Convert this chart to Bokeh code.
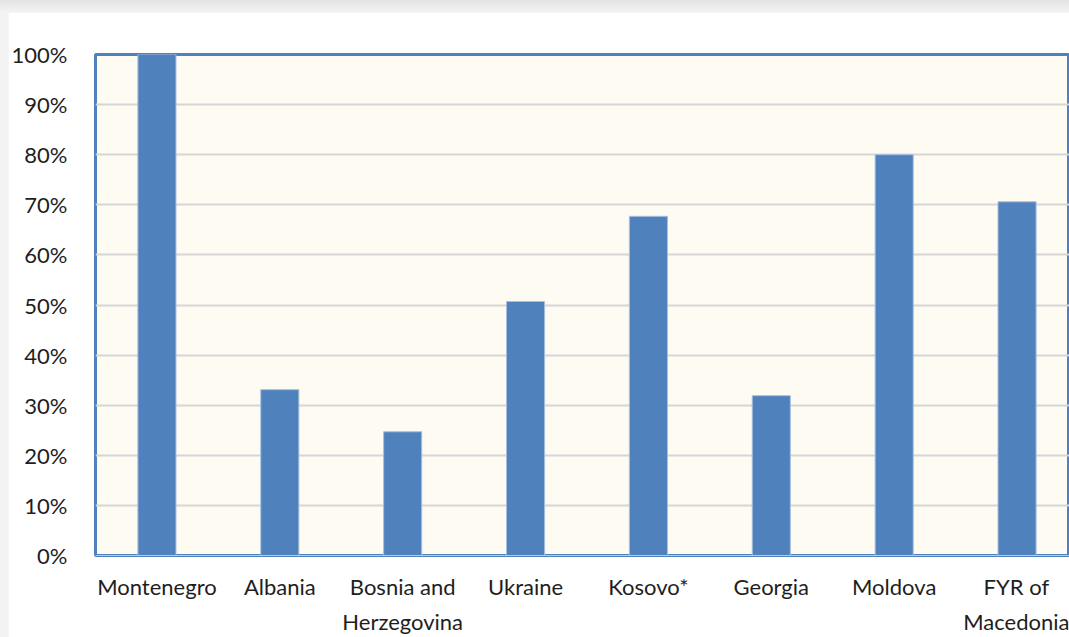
from bokeh.plotting import figure
from bokeh.layouts import column
from bokeh.models import Range1d, FixedTicker, PrintfTickFormatter, ColumnDataSource
from bokeh.embed import file_html
from bokeh.resources import INLINE

# Share by country (%)
countries = ["Montenegro", "Albania", "Bosnia and\nHerzegovina", "Ukraine",
             "Kosovo*", "Georgia", "Moldova", "FYR of\nMacedonia"]
shares = [100, 33.1, 24.7, 50.7, 67.7, 31.9, 80, 70.6]
y_ticks = [0, 10, 20, 30, 40, 50, 60, 70, 80, 90, 100]

positions = [i + 0.5 for i in range(len(countries))]
src = ColumnDataSource(dict(x=positions, top=shares))

FONT = "Lato"
BLUE = "#4F81BD"

p = figure(width=1061, height=625, output_backend="svg", toolbar_location=None,
           x_range=Range1d(0, 975 / 123), y_range=Range1d(0, 100),
           min_border_left=86, min_border_right=0, min_border_top=42,
           min_border_bottom=81)
p.margin = (12, 0, 0, 8)

p.background_fill_color = "#FEFBF2"
p.border_fill_color = "white"
p.outline_line_color = BLUE
p.outline_line_width = 3

p.vbar(x="x", top="top", width=0.31, bottom=0, source=src,
       fill_color=BLUE, line_color="#A7BFDF", line_width=1)

# gridlines
p.xgrid.grid_line_color = None
p.ygrid.ticker = FixedTicker(ticks=y_ticks)
p.ygrid.grid_line_color = "#D6D6D6"
p.ygrid.grid_line_width = 2

# y axis
p.yaxis.ticker = FixedTicker(ticks=y_ticks)
p.yaxis.formatter = PrintfTickFormatter(format="%d%%")
p.yaxis.axis_line_color = None
p.yaxis.major_tick_line_color = None
p.yaxis.minor_tick_line_color = None
p.yaxis.major_label_standoff = 22
p.yaxis.major_label_text_font = FONT
p.yaxis.major_label_text_font_size = "22px"
p.yaxis.major_label_text_color = "#1e1e1e"

# x axis with the country names
p.xaxis.ticker = FixedTicker(ticks=positions)
p.xaxis.major_label_overrides = {x: c for x, c in zip(positions, countries)}
p.xaxis.axis_line_color = "#C8C8C8"
p.xaxis.axis_line_width = 1
p.xaxis.major_tick_line_color = None
p.xaxis.minor_tick_line_color = None
p.xaxis.major_label_standoff = 11
p.xaxis.major_label_text_font = FONT
p.xaxis.major_label_text_font_size = "22px"
p.xaxis.major_label_text_color = "#1e1e1e"
p.xaxis.major_label_text_line_height = 1.3

page = column(p, width=1069, height=637,
              styles={"background": "linear-gradient(180deg, #e4e4e4 0px, #f3f3f3 12px, #f3f3f3 100%)"})

open("out.html", "w").write(file_html(page, INLINE))
